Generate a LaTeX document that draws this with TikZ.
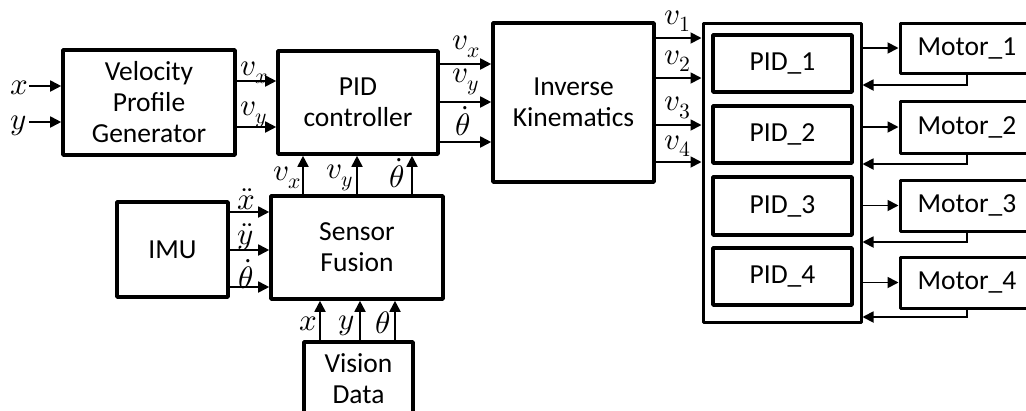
\documentclass[tikz,border=0pt]{standalone}
\usepackage{unicode-math}
\setmainfont{Carlito}
\setmathfont{Latin Modern Math}
\usetikzlibrary{arrows.meta}
\begin{document}
\begin{tikzpicture}[x=1pt,y=-1pt,
  every node/.style={font=\fontsize{27.5}{31}\selectfont},
  blk/.style={draw,line width=3.6pt,rectangle,inner sep=0pt,align=center,line join=round},
  thinblk/.style={draw,line width=3pt,rectangle,inner sep=0pt,align=center,line join=round},
  arr/.style={line width=1.8pt,-{Triangle[length=11pt,width=11pt]}},
  lbl/.style={inner sep=0pt,font=\fontsize{31}{34}\selectfont}]
\useasboundingbox (0,0) rectangle (1026,410);

% main blocks
\node[blk,minimum width=172pt,minimum height=105pt] (vpg) at (149,102.5) {Velocity\\Profile\\Generator};
\node[blk,minimum width=160pt,minimum height=103pt] (pid) at (358,102.5) {PID\\controller};
\node[blk,minimum width=161pt,minimum height=159pt] (ik) at (573.5,102.5) {Inverse\\Kinematics};
\node[blk,minimum width=111pt,minimum height=95pt] (imu) at (172.5,249.5) {IMU};
\node[blk,minimum width=172pt,minimum height=103pt] (sf) at (357,247.5) {Sensor\\Fusion};
\node[blk,minimum width=109pt,minimum height=83pt] (vis) at (358.5,383.5) {};
\node[align=center] (vistext) at (358.5,379) {Vision\\Data};

% wheel controller bank
\node[thinblk,minimum width=158pt,minimum height=299pt] (bank) at (782,172.5) {};
\node[blk,minimum width=139pt,minimum height=57pt] (p1) at (782.5,63.5) {PID\_1};
\node[blk,minimum width=139pt,minimum height=57pt] (p2) at (782.5,134.5) {PID\_2};
\node[blk,minimum width=139pt,minimum height=58pt] (p3) at (782.5,206) {PID\_3};
\node[blk,minimum width=139pt,minimum height=57pt] (p4) at (782.5,276.5) {PID\_4};

% motors
\node[thinblk,minimum width=134pt,minimum height=50pt] (m1) at (967,48) {Motor\_1};
\node[thinblk,minimum width=134pt,minimum height=52pt] (m2) at (967,127) {Motor\_2};
\node[thinblk,minimum width=134pt,minimum height=51pt] (m3) at (967,205.5) {Motor\_3};
\node[thinblk,minimum width=134pt,minimum height=51pt] (m4) at (967,282.5) {Motor\_4};

% external inputs
\coordinate (inx) at (29,86);
\coordinate (iny) at (29,122);
\draw[arr] (inx) -- (vpg.west |- inx);
\draw[arr] (iny) -- (vpg.west |- iny);
\node[lbl] at (19,88) {$x$};
\node[lbl] at (19,126) {$y$};

% velocity profile -> PID
\draw[arr] (vpg.east |- 0,81) -- (pid.west |- 0,81);
\draw[arr] (vpg.east |- 0,127) -- (pid.west |- 0,127);
\node[lbl] at (254,73) {$v_x$};
\node[lbl] at (254,115) {$v_y$};

% PID -> inverse kinematics
\draw[arr] (pid.east |- 0,64) -- (ik.west |- 0,64);
\draw[arr] (pid.east |- 0,102) -- (ik.west |- 0,102);
\draw[arr] (pid.east |- 0,142) -- (ik.west |- 0,142);
\node[lbl] at (466,47) {$v_x$};
\node[lbl] at (466,82) {$v_y$};
\node[lbl] at (463,121) {$\dot{\theta}$};

% sensor fusion -> PID feedback
\draw[arr] (sf.north -| 303,0) -- (pid.south -| 303,0);
\draw[arr] (sf.north -| 357,0) -- (pid.south -| 357,0);
\draw[arr] (sf.north -| 412,0) -- (pid.south -| 412,0);
\node[lbl] at (287,178) {$v_x$};
\node[lbl] at (340,178) {$v_y$};
\node[lbl] at (397,173) {$\dot{\theta}$};

% IMU -> sensor fusion
\draw[arr] (imu.east |- 0,212) -- (sf.west |- 0,212);
\draw[arr] (imu.east |- 0,250) -- (sf.west |- 0,250);
\draw[arr] (imu.east |- 0,287) -- (sf.west |- 0,287);
\node[lbl] at (246,199) {$\ddot{x}$};
\node[lbl] at (246,237) {$\ddot{y}$};
\node[lbl] at (246,274) {$\dot{\theta}$};

% vision -> sensor fusion
\draw[arr] (vis.north -| 320,0) -- (sf.south -| 320,0);
\draw[arr] (vis.north -| 360,0) -- (sf.south -| 360,0);
\draw[arr] (vis.north -| 395,0) -- (sf.south -| 395,0);
\node[lbl] at (308,324) {$x$};
\node[lbl] at (347,326) {$y$};
\node[lbl] at (383,323) {$\theta$};

% inverse kinematics -> wheel PIDs
\draw[arr] (ik.east |- 0,38) -- (bank.west |- 0,38);
\draw[arr] (ik.east |- 0,78) -- (bank.west |- 0,78);
\draw[arr] (ik.east |- 0,125) -- (bank.west |- 0,125);
\draw[arr] (ik.east |- 0,162) -- (bank.west |- 0,162);
\node[lbl] at (678,21) {$v_1$};
\node[lbl] at (678,61) {$v_2$};
\node[lbl] at (678,108) {$v_3$};
\node[lbl] at (678,146) {$v_4$};

% wheel PIDs <-> motors
\draw[arr] (bank.east |- m1) -- (m1.west);
\draw[arr] (bank.east |- m2) -- (m2.west);
\draw[arr] (bank.east |- m3) -- (m3.west);
\draw[arr] (bank.east |- m4) -- (m4.west);
\draw[arr] (m1.south) |- (bank.east |- 0,85);
\draw[arr] (m2.south) |- (bank.east |- 0,164);
\draw[arr] (m3.south) |- (bank.east |- 0,242);
\draw[arr] (m4.south) |- (bank.east |- 0,317);
\end{tikzpicture}
\end{document}
